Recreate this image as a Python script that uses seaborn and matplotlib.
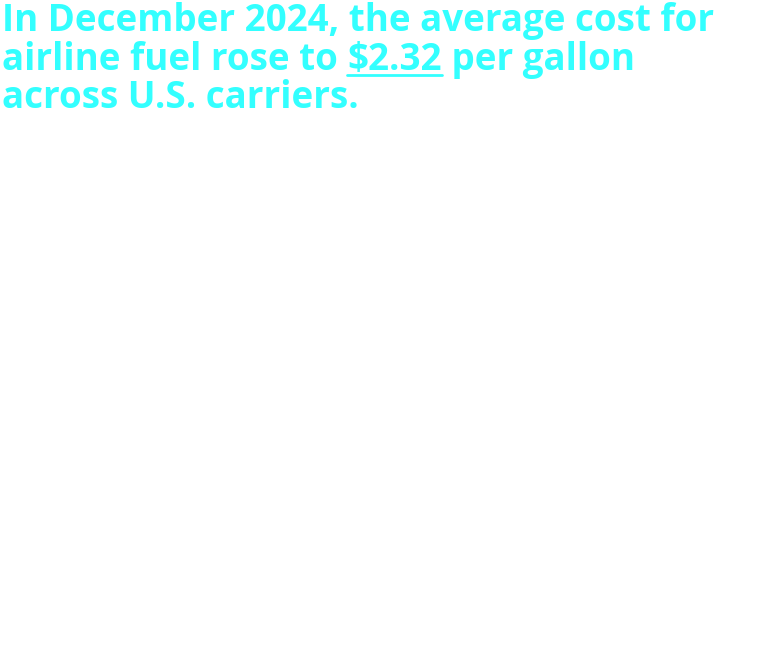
import matplotlib
matplotlib.use("Agg")
import matplotlib.pyplot as plt
import seaborn as sns
from matplotlib.lines import Line2D

# Headline text (the reference shows only the headline, no plotted marks)
title_lines = ["In December 2024, the average cost for",
               "airline fuel rose to ", "$2.32", " per gallon",
               "across U.S. carriers."]
fuel_cost = 2.32

sns.set_theme(style="white")
plt.rcParams['font.family'] = ['Open Sans', 'DejaVu Sans']

W, H = 774, 664
fig = plt.figure(figsize=(W / 100, H / 100), dpi=100)
ax = fig.add_axes([0, 0, 1, 1])
ax.set_axis_off()

color = '#33FFFF'
fs = 26.5
kw = dict(fontsize=fs, fontweight='bold', color=color, va='baseline', ha='left',
          transform=None)

x0 = 2
baselines = [31, 70, 108]  # pixels from top

fig.canvas.draw()
renderer = fig.canvas.get_renderer()

ax.text(x0, H - baselines[0], title_lines[0], **kw)

# second line built in pieces so the value can be underlined
x = x0
for i, part in enumerate(title_lines[1:4]):
    t = ax.text(x, H - baselines[1], part, **kw)
    bb = t.get_window_extent(renderer)
    if part == f"${fuel_cost:.2f}":
        y_ul = H - baselines[1] - 5
        fig.lines.append(Line2D([bb.x0, bb.x1], [y_ul, y_ul], color=color, lw=2,
                                transform=None))
    x = bb.x1 if not part.endswith(' ') else bb.x1
ax.text(x0, H - baselines[2], title_lines[4], **kw)

fig.savefig("out.png", dpi=100, facecolor='white')
